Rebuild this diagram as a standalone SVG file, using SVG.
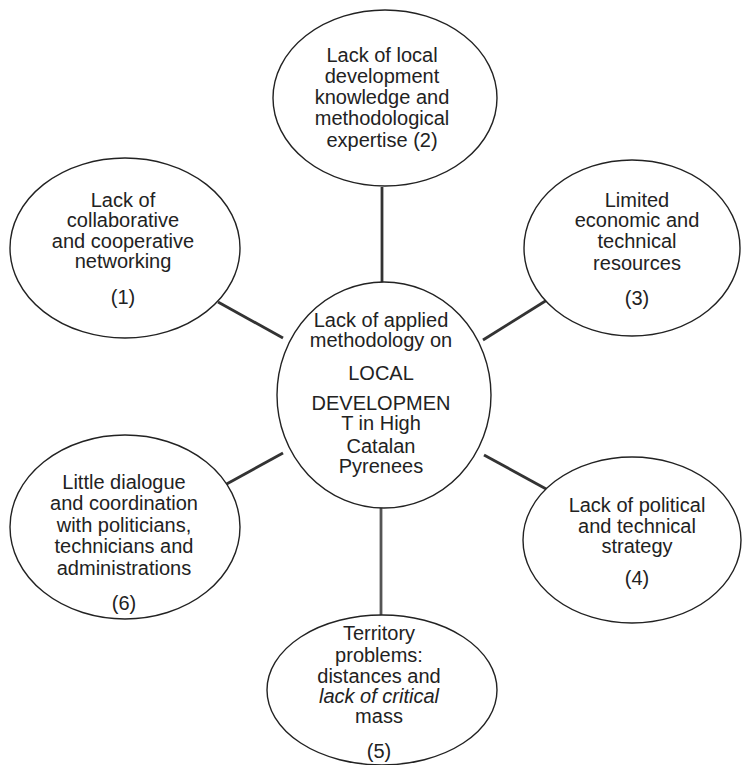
<svg xmlns="http://www.w3.org/2000/svg" width="743" height="765" viewBox="0 0 743 765">
<style>
.node ellipse{fill:#fff;stroke:#222;stroke-width:1.4}
.node text{font-family:"Liberation Sans",Arial,sans-serif;font-size:20px;fill:#222;text-anchor:middle}
.conn line{stroke:#333;stroke-width:2.8}
.it{font-style:italic}
</style>
<rect width="743" height="765" fill="#fff"/>
<g id="connectors" class="conn">
<line x1="382" y1="187" x2="382" y2="283" stroke="#444"/>
<line x1="218" y1="302" x2="283" y2="338"/>
<line x1="547" y1="300" x2="483" y2="340"/>
<line x1="223" y1="486" x2="283" y2="453"/>
<line x1="548" y1="490" x2="484" y2="455"/>
<line x1="381" y1="508" x2="381" y2="616" style="stroke:#555"/>
</g>
<g id="n2" class="node">
<ellipse cx="385" cy="98" rx="112" ry="88"/>
<text x="382" y="62">Lack of local</text>
<text x="382" y="83">development</text>
<text x="382" y="104">knowledge and</text>
<text x="382" y="125">methodological</text>
<text x="382" y="147">expertise (2)</text>
</g>
<g id="n1" class="node">
<ellipse cx="125" cy="248" rx="115" ry="90"/>
<text x="123" y="207">Lack of</text>
<text x="123" y="227">collaborative</text>
<text x="123" y="248">and cooperative</text>
<text x="123" y="268">networking</text>
<text x="123" y="304">(1)</text>
</g>
<g id="n3" class="node">
<ellipse cx="632" cy="248" rx="108" ry="88"/>
<text x="637" y="207">Limited</text>
<text x="637" y="227">economic and</text>
<text x="637" y="248">technical</text>
<text x="637" y="270">resources</text>
<text x="637" y="305">(3)</text>
</g>
<g id="center" class="node">
<ellipse cx="384" cy="395" rx="107" ry="113"/>
<text x="381" y="327">Lack of applied</text>
<text x="381" y="347">methodology on</text>
<text x="381" y="380">LOCAL</text>
<text x="381" y="410">DEVELOPMEN</text>
<text x="381" y="430">T in High</text>
<text x="381" y="453">Catalan</text>
<text x="381" y="473">Pyrenees</text>
</g>
<g id="n6" class="node">
<ellipse cx="125" cy="527" rx="115" ry="92"/>
<text x="124" y="489">Little dialogue</text>
<text x="124" y="510">and coordination</text>
<text x="124" y="532">with politicians,</text>
<text x="124" y="553">technicians and</text>
<text x="124" y="575">administrations</text>
<text x="124" y="610">(6)</text>
</g>
<g id="n4" class="node">
<ellipse cx="632" cy="540" rx="109" ry="83"/>
<text x="637" y="512">Lack of political</text>
<text x="637" y="533">and technical</text>
<text x="637" y="553">strategy</text>
<text x="637" y="585">(4)</text>
</g>
<g id="n5" class="node">
<ellipse cx="382" cy="690" rx="115" ry="75"/>
<text x="379" y="640">Territory</text>
<text x="379" y="662">problems:</text>
<text x="379" y="683">distances and</text>
<text x="379" y="703" class="it">lack of critical</text>
<text x="379" y="723">mass</text>
<text x="379" y="758">(5)</text>
</g>
</svg>
